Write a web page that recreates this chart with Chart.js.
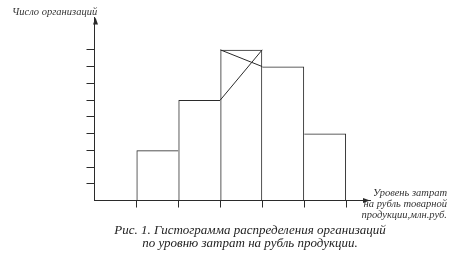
<!DOCTYPE html>
<html>
<head>
<meta charset="utf-8">
<script src="https://cdn.jsdelivr.net/npm/chart.js@4.4.1/dist/chart.umd.min.js"></script>
<style>
  html, body { margin: 0; padding: 0; background: #fff; }
  #wrap { position: relative; width: 457px; height: 253px; overflow: hidden; }
  canvas { position: absolute; left: 0; top: 0; }
  .lbl { position: absolute; font-family: "Liberation Serif", "DejaVu Serif", serif; font-style: italic; color: #333; white-space: nowrap; }
  #ytitle { left: 12px; top: 6px; font-size: 10.5px; }
  #xtitle { right: 10px; top: 187px; font-size: 10.5px; line-height: 11px; text-align: right; }
  #caption { left: 0; width: 500px; top: 223px; font-size: 13px; line-height: 13px; text-align: center; color: #222; }
</style>
</head>
<body>
<div id="wrap">
  <canvas id="hist" width="457" height="253"></canvas>
  <div class="lbl" id="ytitle">Число организаций</div>
  <div class="lbl" id="xtitle">Уровень затрат<br>на рубль товарной<br>продукции,млн.руб.</div>
  <div class="lbl" id="caption">Рис. 1. Гистограмма распределения организаций<br>по уровню затрат на рубль продукции.</div>
</div>
<script>
// интервалы (номер интервала на оси) и число организаций в каждом
const binStarts = [1, 2, 3, 4, 5];
const counts = [3, 6, 9, 8, 4];
const yTicks = [1, 2, 3, 4, 5, 6, 7, 8, 9];
const xTicks = [1, 2, 3, 4, 5, 6];

const ink = '#2b2b2b';

// модальный интервал и линии для графического нахождения моды
const m = counts.indexOf(Math.max(...counts));
const modeLeft = binStarts[m], modeRight = binStarts[m] + 1;
const modeLine1 = [{ x: modeLeft, y: counts[m - 1] }, { x: modeRight, y: counts[m] }];
const modeLine2 = [{ x: modeLeft, y: counts[m] }, { x: modeRight, y: counts[m + 1] }];

// общую сторону соседних столбцов рисует только более высокий столбец
const last = counts.length - 1;
const barBorder = c => {
    const i = c.dataIndex;
    return {
        top: 1,
        bottom: 0,
        left: (i === 0 || counts[i - 1] < counts[i]) ? 1 : 0,
        right: (i === last || counts[i + 1] <= counts[i]) ? 1 : 0
    };
};

const arrows = {
    id: 'arrows',
    afterDraw(chart) {
        const { ctx, chartArea: a } = chart;
        const x0 = Math.round(a.left) + 0.5, y0 = Math.round(a.bottom) - 0.5;
        ctx.save();
        ctx.fillStyle = ink;
        ctx.beginPath();
        ctx.moveTo(x0, a.top);
        ctx.lineTo(x0 - 2.5, a.top + 7);
        ctx.lineTo(x0 + 2.5, a.top + 7);
        ctx.closePath();
        ctx.fill();
        ctx.beginPath();
        ctx.moveTo(a.right, y0);
        ctx.lineTo(a.right - 7, y0 - 2.5);
        ctx.lineTo(a.right - 7, y0 + 2.5);
        ctx.closePath();
        ctx.fill();
        ctx.restore();
    }
};

new Chart(document.getElementById('hist'), {
    type: 'bar',
    data: {
        datasets: [
            {
                type: 'line',
                data: modeLine1,
                borderColor: ink,
                borderWidth: 1,
                pointRadius: 0,
                order: 0
            },
            {
                type: 'line',
                data: modeLine2,
                borderColor: ink,
                borderWidth: 1,
                pointRadius: 0,
                order: 0
            },
            {
                data: binStarts.map((b, i) => ({ x: b + 0.5, y: counts[i] })),
                backgroundColor: 'rgba(0,0,0,0)',
                borderColor: ink,
                borderWidth: barBorder,
                borderSkipped: false,
                inflateAmount: 0,
                barPercentage: 1,
                categoryPercentage: 1,
                order: 1
            }
        ]
    },
    options: {
        responsive: false,
        animation: false,
        devicePixelRatio: 1,
        layout: { padding: { left: 86.5, right: 87, top: 17.5, bottom: 45.5 } },
        plugins: {
            legend: { display: false },
            tooltip: { enabled: false }
        },
        scales: {
            x: {
                type: 'linear',
                offset: false,
                min: 0,
                max: 6.57,
                afterBuildTicks: s => { s.ticks = xTicks.map(v => ({ value: v })); },
                ticks: { display: false },
                grid: { offset: false, drawOnChartArea: false, drawTicks: true, tickLength: 7, color: ink },
                border: { display: true, color: ink, width: 1 }
            },
            y: {
                min: 0,
                max: 10.93,
                afterBuildTicks: s => { s.ticks = yTicks.map(v => ({ value: v })); },
                ticks: { display: false },
                grid: { drawOnChartArea: false, drawTicks: true, tickLength: 8, color: ink },
                border: { display: true, color: ink, width: 1 }
            }
        }
    },
    plugins: [arrows]
});
</script>
</body>
</html>
